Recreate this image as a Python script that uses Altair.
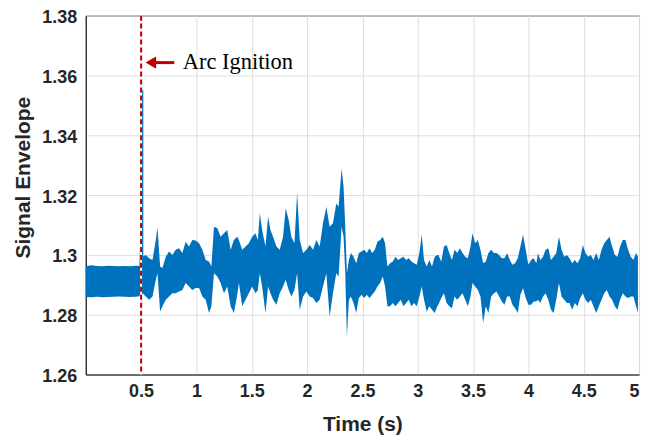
import altair as alt
import pandas as pd

# ---- data ----
time_s = [0.0, 0.05, 0.1, 0.15, 0.2, 0.25, 0.3, 0.35, 0.4, 0.45, 0.485, 0.492, 0.498,
          0.513, 0.543, 0.573, 0.603, 0.633, 0.648, 0.672, 0.693, 0.723, 0.753, 0.783, 0.813,
          0.843, 0.873, 0.903, 0.933, 0.963, 0.993, 1.024, 1.054, 1.084, 1.114, 1.135, 1.159,
          1.189, 1.219, 1.249, 1.279, 1.309, 1.339, 1.369,
          1.384, 1.414, 1.444, 1.474, 1.504, 1.534, 1.555, 1.573, 1.594, 1.624, 1.648, 1.669,
          1.693, 1.723, 1.753, 1.783, 1.807, 1.834, 1.858, 1.886, 1.910, 1.934, 1.964, 1.994,
          2.024, 2.054, 2.084, 2.114, 2.144, 2.174, 2.204, 2.234, 2.264,
          2.285, 2.312, 2.330, 2.345, 2.360, 2.378, 2.396, 2.420, 2.444, 2.468, 2.492, 2.516,
          2.540, 2.564, 2.588, 2.612, 2.636, 2.660, 2.684, 2.705, 2.726, 2.750, 2.775, 2.799,
          2.823, 2.847, 2.871, 2.895, 2.919, 2.943, 2.967, 2.991, 3.015, 3.036, 3.057, 3.081,
          3.105, 3.129, 3.153, 3.177,
          3.186, 3.213, 3.237, 3.261, 3.285, 3.309, 3.333, 3.357, 3.381, 3.405, 3.429, 3.453,
          3.477, 3.495, 3.519, 3.543, 3.567, 3.591, 3.615, 3.639, 3.664, 3.688, 3.712, 3.736,
          3.760, 3.784, 3.808, 3.832, 3.856, 3.880, 3.904, 3.928, 3.952, 3.976, 4.000, 4.024,
          4.048, 4.072,
          4.087, 4.108, 4.132, 4.156, 4.180, 4.204, 4.228, 4.252, 4.276, 4.300, 4.324, 4.348,
          4.372, 4.396, 4.420, 4.444, 4.468, 4.492, 4.516, 4.540, 4.564, 4.588, 4.613, 4.637,
          4.661, 4.685, 4.709, 4.733, 4.757, 4.781, 4.805, 4.829, 4.853, 4.877, 4.901, 4.925,
          4.949, 4.973, 4.990]

env_high = [1.2962, 1.2965, 1.2963, 1.2962, 1.2964, 1.2963, 1.2962, 1.2963, 1.2962, 1.2964, 1.2963, 1.3058, 1.2990,
            1.2994, 1.3000, 1.2989, 1.2983, 1.3050, 1.3092, 1.2961, 1.2956, 1.2994, 1.3011, 1.3000, 1.3017,
            1.3022, 1.3006, 1.3044, 1.3028, 1.3050, 1.3048, 1.3039, 1.3017, 1.2983, 1.2978, 1.2961, 1.3094,
            1.3089, 1.3061, 1.3072, 1.3083, 1.3017, 1.3050, 1.3061,
            1.3050, 1.3017, 1.3028, 1.3039, 1.3061, 1.3072, 1.3050, 1.3139, 1.3083, 1.3028, 1.3128, 1.3083,
            1.3061, 1.3028, 1.3017, 1.3061, 1.3156, 1.3117, 1.3061, 1.3039, 1.3207, 1.3050, 1.3006, 1.3017,
            1.3033, 1.3017, 1.3050, 1.3028, 1.3106, 1.3161, 1.3094, 1.3106, 1.3172,
            1.3161, 1.3289, 1.3228, 1.3094, 1.2939, 1.2983, 1.3006, 1.2994, 1.2972, 1.3006, 1.3011, 1.3017,
            1.3006, 1.3022, 1.3006, 1.3017, 1.3044, 1.3050, 1.3061, 1.3039, 1.2961, 1.2972, 1.2978, 1.2994,
            1.2983, 1.2989, 1.2994, 1.2983, 1.2989, 1.2978, 1.2972, 1.2967, 1.3006, 1.3067, 1.2983, 1.2961,
            1.2983, 1.2961, 1.2994, 1.3000,
            1.3000, 1.2978, 1.3028, 1.3033, 1.3006, 1.2983, 1.3017, 1.3006, 1.3022, 1.3006, 1.2994, 1.2989,
            1.3028, 1.3072, 1.3039, 1.3050, 1.3017, 1.2972, 1.2978, 1.3006, 1.3017, 1.3006, 1.3006, 1.3000,
            1.2989, 1.2989, 1.3006, 1.2983, 1.2967, 1.2972, 1.2989, 1.3028, 1.3067, 1.3017, 1.2967, 1.2983,
            1.2989, 1.2972,
            1.3006, 1.2983, 1.2994, 1.3017, 1.3022, 1.2983, 1.2994, 1.3006, 1.3061, 1.3017, 1.2994, 1.3000,
            1.2989, 1.2972, 1.2983, 1.2972, 1.2989, 1.3033, 1.3006, 1.2994, 1.3000, 1.2983, 1.3006, 1.2983,
            1.3017, 1.3039, 1.3050, 1.3061, 1.3028, 1.3000, 1.2994, 1.3028, 1.3050, 1.3050, 1.3017, 1.2994,
            1.2983, 1.3006, 1.2994]

env_low = [1.2859, 1.2858, 1.2860, 1.2858, 1.2859, 1.2860, 1.2861, 1.2860, 1.2859, 1.2860, 1.2862, 1.2870, 1.2870,
           1.2872, 1.2861, 1.2850, 1.2861, 1.2917, 1.2939, 1.2811, 1.2828, 1.2850, 1.2861, 1.2872, 1.2872,
           1.2878, 1.2883, 1.2906, 1.2894, 1.2883, 1.2889, 1.2889, 1.2861, 1.2850, 1.2806, 1.2828, 1.2939,
           1.2928, 1.2906, 1.2872, 1.2894, 1.2828, 1.2806, 1.2867,
           1.2906, 1.2828, 1.2850, 1.2872, 1.2894, 1.2872, 1.2883, 1.2939, 1.2894, 1.2806, 1.2894, 1.2872,
           1.2850, 1.2833, 1.2872, 1.2894, 1.2917, 1.2883, 1.2861, 1.2883, 1.2939, 1.2817, 1.2861, 1.2878,
           1.2861, 1.2856, 1.2839, 1.2850, 1.2894, 1.2939, 1.2794, 1.2872, 1.2939,
           1.2928, 1.3094, 1.3061, 1.2939, 1.2728, 1.2850, 1.2861, 1.2839, 1.2806, 1.2856, 1.2867, 1.2856,
           1.2867, 1.2856, 1.2867, 1.2878, 1.2894, 1.2906, 1.2928, 1.2894, 1.2828, 1.2828, 1.2839, 1.2828,
           1.2839, 1.2850, 1.2828, 1.2839, 1.2850, 1.2828, 1.2839, 1.2828, 1.2861, 1.2894, 1.2850, 1.2811,
           1.2828, 1.2817, 1.2806, 1.2828,
           1.2833, 1.2856, 1.2872, 1.2839, 1.2828, 1.2822, 1.2861, 1.2850, 1.2861, 1.2872, 1.2850, 1.2828,
           1.2861, 1.2906, 1.2894, 1.2883, 1.2861, 1.2772, 1.2828, 1.2806, 1.2861, 1.2872, 1.2878, 1.2861,
           1.2844, 1.2833, 1.2861, 1.2861, 1.2833, 1.2822, 1.2806, 1.2867, 1.2889, 1.2856, 1.2833, 1.2833,
           1.2844, 1.2844,
           1.2850, 1.2839, 1.2861, 1.2872, 1.2850, 1.2817, 1.2806, 1.2850, 1.2906, 1.2861, 1.2850, 1.2839,
           1.2839, 1.2817, 1.2839, 1.2828, 1.2856, 1.2872, 1.2850, 1.2839, 1.2850, 1.2828, 1.2806, 1.2828,
           1.2850, 1.2872, 1.2883, 1.2861, 1.2850, 1.2828, 1.2817, 1.2850, 1.2872, 1.2861, 1.2856, 1.2861,
           1.2861, 1.2828, 1.2806]

# ignition spike
spike_t = [0.511]
spike_low = [1.2870]
spike_high = [1.3550]

ignition_t = 0.5
x_ticks = [0.5, 1, 1.5, 2, 2.5, 3, 3.5, 4, 4.5, 5]
y_ticks = [1.26, 1.28, 1.30, 1.32, 1.34, 1.36, 1.38]

annotation_text = "Arc Ignition"
arrow_tail_t = 0.80
arrow_shaft_end_t = 0.60
arrow_head_t = 0.588
arrow_y = 1.3643
text_t = 0.877

BLUE = "#0072BD"
RED = "#C00000"

sig = pd.DataFrame({"t": time_s, "hi": env_high, "lo": env_low})

x_enc = alt.X("t:Q", scale=alt.Scale(domain=[0, 5], nice=False),
              axis=alt.Axis(values=x_ticks, format="~g", title="Time (s)"))
y_enc = alt.Y("lo:Q", scale=alt.Scale(domain=[1.26, 1.38], nice=False, zero=False),
              axis=alt.Axis(values=y_ticks, format="~g", title="Signal Envelope", titleY=162,
                            labelOffset=2))

band = alt.Chart(sig).mark_area(color=BLUE, opacity=1, interpolate="linear").encode(
    x=x_enc, y=y_enc, y2="hi:Q")

spike = alt.Chart(pd.DataFrame({"t": spike_t, "lo": spike_low, "hi": spike_high})).mark_rule(
    color=BLUE, strokeWidth=2).encode(x="t:Q", y="lo:Q", y2="hi:Q")

vdf = pd.DataFrame({"t": [ignition_t]})
vline_bg = alt.Chart(vdf).mark_rule(color="white", strokeWidth=2).encode(x="t:Q")
vline = alt.Chart(vdf).mark_rule(color=RED, strokeWidth=2, strokeDash=[5, 3]).encode(x="t:Q")

shaft = alt.Chart(pd.DataFrame({"t": [arrow_shaft_end_t], "t2": [arrow_tail_t], "lo": [arrow_y]})).mark_rule(
    color=RED, strokeWidth=3).encode(x="t:Q", x2="t2:Q", y="lo:Q")
head = alt.Chart(pd.DataFrame({"t": [arrow_head_t], "lo": [arrow_y]})).mark_point(
    shape="triangle-left", filled=True, color=RED, opacity=1, size=150).encode(x="t:Q", y="lo:Q")

label = alt.Chart(pd.DataFrame({"t": [text_t], "lo": [arrow_y], "txt": [annotation_text]})).mark_text(
    align="left", baseline="middle", font="Liberation Serif", fontSize=22.5, color="black", dy=-1
).encode(x="t:Q", y="lo:Q", text="txt:N")

chart = alt.layer(band, spike, vline_bg, vline, shaft, head, label).properties(
    width=555, height=360,
    autosize=alt.AutoSizeParams(type="none"),
    padding={"left": 78, "top": 7, "right": 10, "bottom": 62},
).configure_axis(
    labelFont="Liberation Sans", labelFontWeight="bold", labelFontSize=18, labelColor="#262626",
    titleFont="Liberation Sans", titleFontWeight="bold", titleFontSize=21, titleColor="#262626",
    domainColor="#262626", domainWidth=1,
    gridColor="#dedede", gridWidth=1,
    ticks=False, tickSize=0,
).configure_axisX(
    labelPadding=8, titlePadding=13
).configure_axisY(
    labelPadding=9, titlePadding=8
).configure_view(
    stroke="#262626", strokeWidth=1
)

chart.save("out.html", embed_options={"renderer": "svg", "actions": False})
